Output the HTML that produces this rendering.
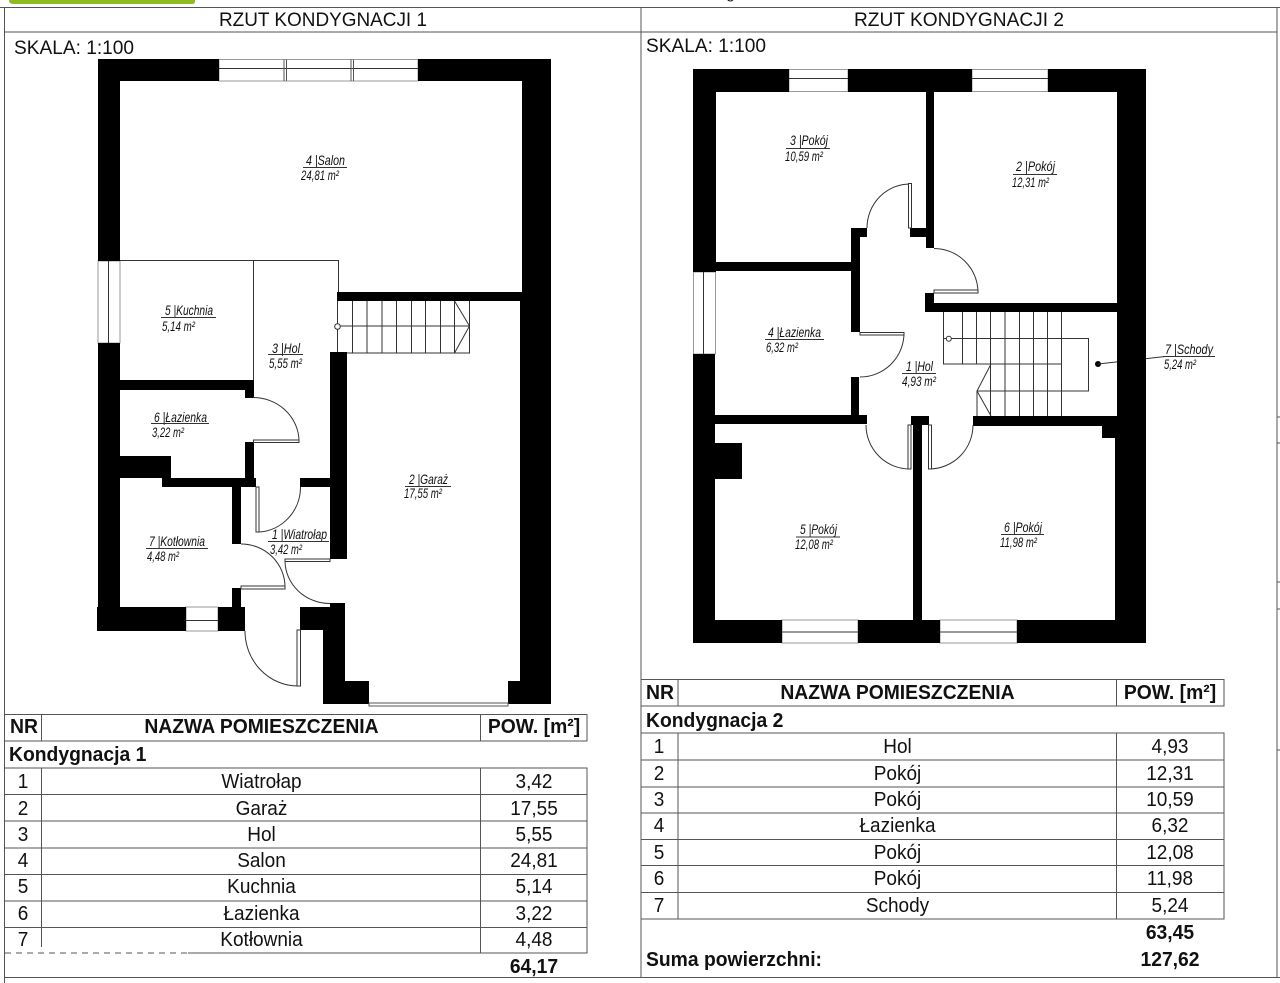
<!DOCTYPE html>
<html lang="pl">
<head>
<meta charset="utf-8">
<title>Rzut kondygnacji</title>
<style>
html,body{margin:0;padding:0;background:#fff;width:1280px;height:983px;overflow:hidden}
svg{display:block}
text{font-family:"Liberation Sans",sans-serif;fill:#111}
.l text{font-size:14px;font-style:italic}
.h{font-size:19px}
.t text{font-size:20px;text-anchor:middle;transform-box:fill-box;transform-origin:center;transform:scaleX(.95)}
.b{font-size:20px;font-weight:bold;transform-box:fill-box;transform-origin:center;transform:scaleX(.966)}
.lft{transform-origin:left center}
.nr{font-size:20px;font-weight:bold}
.m{text-anchor:middle}
.w{fill:#000;stroke:none}
.th{fill:none;stroke:#333;stroke-width:1}
.win{fill:#fff;stroke:#999;stroke-width:1}
.mid{stroke:#333;stroke-width:1;fill:none}
.leaf{fill:#fff;stroke:#333;stroke-width:1}
.g{stroke:#555;stroke-width:1;fill:none}
</style>
</head>
<body>
<svg width="1280" height="983" viewBox="0 0 1280 983" xmlns="http://www.w3.org/2000/svg">
<rect width="1280" height="983" fill="#fff"/>
<path d="M9 0H195V1.5Q195 4 192 4H13Q9 4 9 0Z" fill="#8fbc1e"/>
<text x="726" y="-2" style="font-size:16px">g</text>

<!-- frame -->
<path class="g" d="M0 7.5H1280M4.5 7.5V983M641 7.5V977M1277 7.5V977M4.5 32H1277M4.5 977.5H1280M1277 417H1280M1277 443H1280M1277 582H1280M1277 609H1280M1277 750H1280"/>
<text class="h" x="219" y="26" textLength="208" lengthAdjust="spacingAndGlyphs">RZUT KONDYGNACJI 1</text>
<text class="h" x="854" y="26" textLength="210" lengthAdjust="spacingAndGlyphs">RZUT KONDYGNACJI 2</text>
<text class="h" x="14" y="54" textLength="120" lengthAdjust="spacingAndGlyphs">SKALA: 1:100</text>
<text class="h" x="646" y="52" textLength="120" lengthAdjust="spacingAndGlyphs">SKALA: 1:100</text>

<!-- PLAN 1 windows -->
<rect class="win" x="219" y="59.5" width="199" height="21.5"/>
<path class="mid" d="M219 68.5H418"/>
<path class="g" d="M284 59.5V81M286.500 59.500V81M351 59.500V81M353.500 59.500V81"/>
<rect class="win" x="98" y="261" width="22" height="82"/>
<path class="mid" d="M108.500 261V343"/>
<rect class="win" x="186" y="607" width="32" height="24"/>
<path class="mid" d="M186 620.500H218"/>

<!-- PLAN 1 thin -->
<path class="th" d="M120 260.500H338.500V292M253.500 260.500V380"/>
<!-- stairs 1 -->
<path class="th" d="M337.500 301V353H469.500V301M337 326H469.500M352.500 301V353M367 301V353M382 301V353M396.500 301V353M411.500 301V353M425.500 301V353M440.500 301V353M454.500 301V353M454.500 301L469.500 326L454.500 353"/>
<circle cx="337.500" cy="326.500" r="2.800" fill="#fff" stroke="#333"/>

<!-- PLAN 1 walls -->
<g class="w">
<rect x="98" y="59" width="121" height="22"/>
<rect x="418" y="59" width="133" height="22"/>
<rect x="98" y="59" width="22" height="202"/>
<rect x="98" y="343" width="22" height="288"/>
<rect x="522" y="59" width="29" height="240"/>
<rect x="520" y="295" width="31" height="409"/>
<rect x="337" y="292" width="185" height="9"/>
<rect x="330" y="352" width="17" height="207"/>
<rect x="120" y="380" width="134" height="10"/>
<rect x="245" y="388" width="9" height="10"/>
<rect x="245" y="442" width="9" height="40"/>
<rect x="120" y="456" width="51" height="22"/>
<rect x="120" y="476" width="42" height="1"/>
<rect x="162" y="478" width="94" height="9"/>
<rect x="232" y="487" width="9" height="57"/>
<rect x="300" y="478" width="30" height="9"/>
<rect x="330" y="487" width="9" height="2" />
<rect x="232" y="588" width="9" height="19"/>
<rect x="97" y="607" width="89" height="24"/>
<rect x="218" y="607" width="27" height="24"/>
<rect x="330" y="603" width="15" height="10"/>
<rect x="300" y="607" width="45" height="23"/>
<rect x="323" y="630" width="22" height="74"/>
<rect x="323" y="681" width="46" height="23"/>
<rect x="508" y="681" width="43" height="23"/>
</g>
<rect x="330" y="478" width="10" height="9" class="w"/>
<rect class="win" x="369" y="703" width="139" height="3" style="stroke:#555"/>

<!-- PLAN 1 doors -->
<path class="th" d="M253 397.500A46 44 0 0 1 299 441"/>
<rect class="leaf" x="253.500" y="440" width="45.500" height="2.500"/>
<path class="th" d="M259 532A44 45 0 0 0 300.500 487"/>
<rect class="leaf" x="256" y="487" width="3" height="45"/>
<path class="th" d="M285 561A45 43 0 0 0 330 603.500"/>
<rect class="leaf" x="285" y="559" width="45" height="2.500"/>
<path class="th" d="M241 544A44 43 0 0 1 285 587"/>
<rect class="leaf" x="241" y="586" width="44" height="3"/>
<path class="th" d="M245 631A53 55 0 0 0 298 686"/>
<rect class="leaf" x="297" y="630" width="3.500" height="56"/>

<!-- PLAN 1 labels -->
<g class="l">
<text x="306" y="165" textLength="39" lengthAdjust="spacingAndGlyphs">4 |Salon</text>
<text x="301" y="180" textLength="38" lengthAdjust="spacingAndGlyphs">24,81 m²</text>
<text x="165" y="315" textLength="48" lengthAdjust="spacingAndGlyphs">5 |Kuchnia</text>
<text x="162" y="331" textLength="33" lengthAdjust="spacingAndGlyphs">5,14 m²</text>
<text x="272" y="353" textLength="28" lengthAdjust="spacingAndGlyphs">3 |Hol</text>
<text x="269" y="368" textLength="33" lengthAdjust="spacingAndGlyphs">5,55 m²</text>
<text x="154" y="422" textLength="53" lengthAdjust="spacingAndGlyphs">6 |Łazienka</text>
<text x="152" y="437" textLength="32" lengthAdjust="spacingAndGlyphs">3,22 m²</text>
<text x="409" y="484" textLength="39" lengthAdjust="spacingAndGlyphs">2 |Garaż</text>
<text x="404" y="498" textLength="38" lengthAdjust="spacingAndGlyphs">17,55 m²</text>
<text x="149" y="546" textLength="56" lengthAdjust="spacingAndGlyphs">7 |Kotłownia</text>
<text x="147" y="561" textLength="32" lengthAdjust="spacingAndGlyphs">4,48 m²</text>
<text x="272" y="539" textLength="55" lengthAdjust="spacingAndGlyphs">1 |Wiatrołap</text>
<text x="270" y="554" textLength="32" lengthAdjust="spacingAndGlyphs">3,42 m²</text>
</g>
<path class="mid" d="M303 167.500H347M161 317.500H216M268 354.500H303M151 423.500H209M405 486.500H451M146 548.500H208M268 541.500H329"/>

<!-- PLAN 2 windows -->
<rect class="win" x="789" y="69.500" width="59" height="22"/>
<path class="mid" d="M789 78.500H848"/>
<rect class="win" x="972" y="69.500" width="76" height="22"/>
<path class="mid" d="M972 78.500H1048"/>
<rect class="win" x="693.500" y="272" width="22" height="82"/>
<path class="mid" d="M703.500 272V354"/>
<rect class="win" x="782" y="620" width="76" height="23"/>
<path class="mid" d="M782 632H858"/>
<rect class="win" x="940" y="620" width="77" height="23"/>
<path class="mid" d="M940 632H1017"/>

<!-- stairs 2 -->
<path class="th" d="M943.500 312V364H1061.500M943 338.500H1088.500V391H977M962.500 312V364M976.500 312V364M990.500 312V416M1005 312V416M1019.500 312V416M1033.500 312V416M1047.500 312V416M1061.500 312V416M977 391V416M991 364L977 391L991 416"/>
<circle cx="948.800" cy="338.700" r="2.500" fill="#fff" stroke="#333"/>
<circle cx="1098" cy="364" r="3" fill="#000"/>
<path class="th" d="M1098 364L1165 356.500"/>

<!-- PLAN 2 walls -->
<g class="w">
<rect x="693" y="69" width="96" height="23"/>
<rect x="848" y="69" width="124" height="23"/>
<rect x="1048" y="69" width="98" height="23"/>
<rect x="693" y="69" width="23" height="203"/>
<rect x="693" y="354" width="22" height="289"/>
<rect x="1117" y="69" width="29" height="551"/>
<rect x="1115" y="416" width="31" height="227"/>
<rect x="926" y="92" width="8" height="156"/>
<rect x="910" y="228" width="16" height="9"/>
<rect x="851" y="228" width="16" height="9"/>
<rect x="851" y="228" width="9" height="104"/>
<rect x="716" y="262" width="135" height="9"/>
<rect x="851" y="377" width="8" height="40"/>
<rect x="715" y="415" width="152" height="9"/>
<rect x="925" y="293" width="9" height="19"/>
<rect x="925" y="303" width="192" height="9"/>
<rect x="973" y="416" width="144" height="10"/>
<rect x="1102" y="426" width="15" height="12"/>
<rect x="911" y="416" width="18" height="9"/>
<rect x="913" y="425" width="9" height="195"/>
<rect x="715" y="443" width="27" height="36"/>
<rect x="693" y="620" width="89" height="23"/>
<rect x="858" y="620" width="82" height="23"/>
<rect x="1017" y="620" width="129" height="23"/>
</g>

<!-- PLAN 2 doors -->
<path class="th" d="M867 228A43 44 0 0 1 910 184"/>
<rect class="leaf" x="908.500" y="183.500" width="3" height="44.500"/>
<path class="th" d="M934 248.500A44 44 0 0 1 978 292"/>
<rect class="leaf" x="934" y="290" width="44" height="3"/>
<path class="th" d="M904 333A44 44 0 0 1 860 377"/>
<rect class="leaf" x="860" y="332.500" width="44" height="2.500"/>
<path class="th" d="M866 425A44 44 0 0 0 910 469"/>
<rect class="leaf" x="908" y="425" width="3" height="44"/>
<path class="th" d="M973 425A44 44 0 0 1 930 469"/>
<rect class="leaf" x="928.500" y="425" width="3" height="44"/>

<!-- PLAN 2 labels -->
<g class="l">
<text x="790" y="145" textLength="38" lengthAdjust="spacingAndGlyphs">3 |Pokój</text>
<text x="785" y="161" textLength="38" lengthAdjust="spacingAndGlyphs">10,59 m²</text>
<text x="1016" y="171" textLength="39" lengthAdjust="spacingAndGlyphs">2 |Pokój</text>
<text x="1012" y="187" textLength="37" lengthAdjust="spacingAndGlyphs">12,31 m²</text>
<text x="768" y="337" textLength="53" lengthAdjust="spacingAndGlyphs">4 |Łazienka</text>
<text x="766" y="352" textLength="32" lengthAdjust="spacingAndGlyphs">6,32 m²</text>
<text x="906" y="371" textLength="27" lengthAdjust="spacingAndGlyphs">1 |Hol</text>
<text x="902" y="386" textLength="34" lengthAdjust="spacingAndGlyphs">4,93 m²</text>
<text x="800" y="534" textLength="37" lengthAdjust="spacingAndGlyphs">5 |Pokój</text>
<text x="795" y="549" textLength="38" lengthAdjust="spacingAndGlyphs">12,08 m²</text>
<text x="1004" y="532" textLength="38" lengthAdjust="spacingAndGlyphs">6 |Pokój</text>
<text x="1000" y="547" textLength="37" lengthAdjust="spacingAndGlyphs">11,98 m²</text>
<text x="1165" y="354" textLength="48" lengthAdjust="spacingAndGlyphs">7 |Schody</text>
<text x="1164" y="369" textLength="32" lengthAdjust="spacingAndGlyphs">5,24 m²</text>
</g>
<path class="mid" d="M786 148.500H830M1013 174.500H1057M765 339.500H824M902 373.500H936M796 537H840M1001 534.500H1044M1163 356.500H1215"/>

<!-- TABLE 1 -->
<path class="g" d="M4.500 714.500H587V741H4.500M41.500 714.500V741M480.500 714.500V741M587 714.500V741"/>
<path class="g" d="M4.500 768H587V953H188M4.500 794.500H587M4.500 821H587M4.500 848H587M4.500 874.500H587M4.500 901H587M4.500 927.500H587M41.500 768V947M480.500 768V953"/>
<path class="g" stroke-dasharray="6 5" d="M5 953H188"/>
<text class="nr" x="10" y="733" textLength="28" lengthAdjust="spacingAndGlyphs">NR</text>
<text class="b m" x="261.500" y="733">NAZWA POMIESZCZENIA</text>
<text class="b m" x="534" y="733">POW. [m²]</text>
<text class="b lft" x="9" y="761">Kondygnacja 1</text>
<g class="t">
<text x="23" y="788">1</text><text x="261.500" y="788">Wiatrołap</text><text x="534" y="788">3,42</text>
<text x="23" y="815">2</text><text x="261.500" y="815">Garaż</text><text x="534" y="815">17,55</text>
<text x="23" y="841">3</text><text x="261.500" y="841">Hol</text><text x="534" y="841">5,55</text>
<text x="23" y="867">4</text><text x="261.500" y="867">Salon</text><text x="534" y="867">24,81</text>
<text x="23" y="893">5</text><text x="261.500" y="893">Kuchnia</text><text x="534" y="893">5,14</text>
<text x="23" y="920">6</text><text x="261.500" y="920">Łazienka</text><text x="534" y="920">3,22</text>
<text x="23" y="946">7</text><text x="261.500" y="946">Kotłownia</text><text x="534" y="946">4,48</text>
</g>
<text class="b m" x="534" y="973">64,17</text>

<!-- TABLE 2 -->
<path class="g" d="M641 679.500H1224V706H641M678 679.500V706M1116.500 679.500V706M1224 679.500V706"/>
<path class="g" d="M641 733H1224V919H641M641 760H1224M641 787H1224M641 813H1224M641 839.500H1224M641 865.500H1224M641 892.500H1224M678 733V919M1116.500 733V919"/>
<text class="nr" x="646" y="699" textLength="28" lengthAdjust="spacingAndGlyphs">NR</text>
<text class="b m" x="897.500" y="699">NAZWA POMIESZCZENIA</text>
<text class="b m" x="1170" y="699">POW. [m²]</text>
<text class="b lft" x="646" y="727">Kondygnacja 2</text>
<g class="t">
<text x="659" y="753">1</text><text x="897.500" y="753">Hol</text><text x="1170" y="753">4,93</text>
<text x="659" y="780">2</text><text x="897.500" y="780">Pokój</text><text x="1170" y="780">12,31</text>
<text x="659" y="806">3</text><text x="897.500" y="806">Pokój</text><text x="1170" y="806">10,59</text>
<text x="659" y="832">4</text><text x="897.500" y="832">Łazienka</text><text x="1170" y="832">6,32</text>
<text x="659" y="859">5</text><text x="897.500" y="859">Pokój</text><text x="1170" y="859">12,08</text>
<text x="659" y="885">6</text><text x="897.500" y="885">Pokój</text><text x="1170" y="885">11,98</text>
<text x="659" y="912">7</text><text x="897.500" y="912">Schody</text><text x="1170" y="912">5,24</text>
</g>
<text class="b m" x="1170" y="939">63,45</text>
<text class="b lft" x="646" y="966">Suma powierzchni:</text>
<text class="b m" x="1170" y="966">127,62</text>
</svg>
</body>
</html>
